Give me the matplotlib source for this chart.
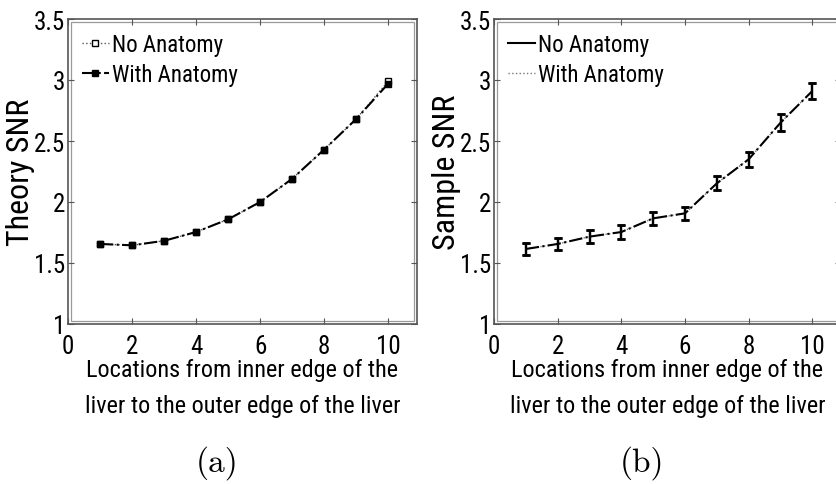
import numpy as np
import matplotlib
matplotlib.use("Agg")
import matplotlib.pyplot as plt
from matplotlib.lines import Line2D
from matplotlib.patches import Rectangle
from matplotlib import font_manager

# data
locations = [1, 2, 3, 4, 5, 6, 7, 8, 9, 10]
theory_no_anatomy = [1.656, 1.645, 1.682, 1.754, 1.858, 2.0, 2.19, 2.43, 2.68, 2.99]
theory_with_anatomy = [1.656, 1.645, 1.682, 1.754, 1.858, 2.0, 2.19, 2.43, 2.68, 2.97]
sample_no_anatomy = [1.615, 1.656, 1.716, 1.754, 1.866, 1.907, 2.153, 2.35, 2.65, 2.91]
sample_with_anatomy = [1.615, 1.656, 1.716, 1.754, 1.866, 1.907, 2.153, 2.35, 2.65, 2.91]
sample_err = [0.053, 0.053, 0.055, 0.055, 0.055, 0.055, 0.058, 0.06, 0.068, 0.068]

xticks = [0, 2, 4, 6, 8, 10]
yticks = [1, 1.5, 2, 2.5, 3, 3.5]
ytick_labels = ["1", "1.5", "2", "2.5", "3", "3.5"]
xlabel = "Locations from inner edge of the\nliver to the outer edge of the liver"
legend_labels = ["No Anatomy", "With Anatomy"]

# narrow helvetica-like font, whichever is installed
names = set(f.name for f in font_manager.fontManager.ttflist)
fam = "Liberation Sans"
for cand in ["Liberation Sans Narrow", "Roboto Condensed", "Archivo Narrow",
             "Asap Condensed", "Barlow Semi Condensed"]:
    if cand in names:
        fam = cand
        break
plt.rcParams['font.family'] = [fam, 'DejaVu Sans']

W, H = 837, 485
fig = plt.figure(figsize=(W / 100, H / 100), dpi=100)

def setup_axes(ax, ylabel, w_px):
    ax.set_xlim(0, 10.9)
    ax.set_ylim(1, 3.5)
    ax.set_xticks(xticks)
    ax.set_xticklabels([str(t) for t in xticks])
    ax.set_yticks(yticks)
    ax.set_yticklabels(ytick_labels)
    ax.tick_params(direction="in", top=True, right=True, length=4, width=0.8,
                   color="#555555", labelsize=18, pad=2)
    ax.tick_params(axis="x", pad=7)
    for s in ax.spines.values():
        s.set_color("#555555")
        s.set_linewidth(1.2)
    # second, lighter frame line just inside
    dx, dy = 3 / w_px, 3 / 305
    ax.add_patch(Rectangle((dx, dy), 1 - 2 * dx, 1 - 2 * dy, transform=ax.transAxes,
                           fill=False, edgecolor="#999999", lw=0.9, clip_on=False))
    ax.set_ylabel(ylabel, fontsize=23, labelpad=-1)
    ax.set_xlabel(xlabel, fontsize=17.5, labelpad=0, linespacing=1.75)

# (a) theory SNR
ax1 = fig.add_axes([68 / W, 1 - 325 / H, 349 / W, 305 / H])
ax1.plot(locations, theory_no_anatomy, linestyle=":", color="#555555", lw=1,
         marker="s", markersize=5, mfc="white", mec="black", mew=1)
ax1.plot(locations, theory_with_anatomy, linestyle="-.", color="black", lw=1.5,
         marker="s", markersize=4.5, mfc="black", mec="black")
setup_axes(ax1, "Theory SNR", 349)
ax1.legend(legend_labels, loc="upper left", frameon=False, fontsize=16.5,
           handlelength=1.2, handletextpad=0.1, labelspacing=0.3,
           borderaxespad=0.2, bbox_to_anchor=(0.0, 1.0))

# (b) sample SNR
ax2 = fig.add_axes([494 / W, 1 - 325 / H, 347 / W, 305 / H])
ax2.errorbar(locations, sample_with_anatomy, yerr=sample_err, linestyle=":",
             color="#777777", lw=1, ecolor="black", elinewidth=1.6,
             capsize=3, capthick=1.8)
ax2.errorbar(locations, sample_no_anatomy, yerr=sample_err, linestyle="-.",
             color="black", lw=1.5, ecolor="black", elinewidth=1.6,
             capsize=3, capthick=1.8)
setup_axes(ax2, "Sample SNR", 347)
handles = [Line2D([], [], color="black", lw=1.5),
           Line2D([], [], color="#777777", lw=1, linestyle=":")]
ax2.legend(handles, legend_labels, loc="upper left", frameon=False, fontsize=16.5,
           handlelength=1.2, handletextpad=0.1, labelspacing=0.3,
           borderaxespad=0.2, bbox_to_anchor=(0.0, 1.0))

# captions
fig.text(217 / W, 1 - 463 / H, "(a)", fontsize=24, family="cmr10",
         ha="center", va="center")
fig.text(642 / W, 1 - 463 / H, "(b)", fontsize=24, family="cmr10",
         ha="center", va="center")

fig.savefig("out.png", dpi=100)
